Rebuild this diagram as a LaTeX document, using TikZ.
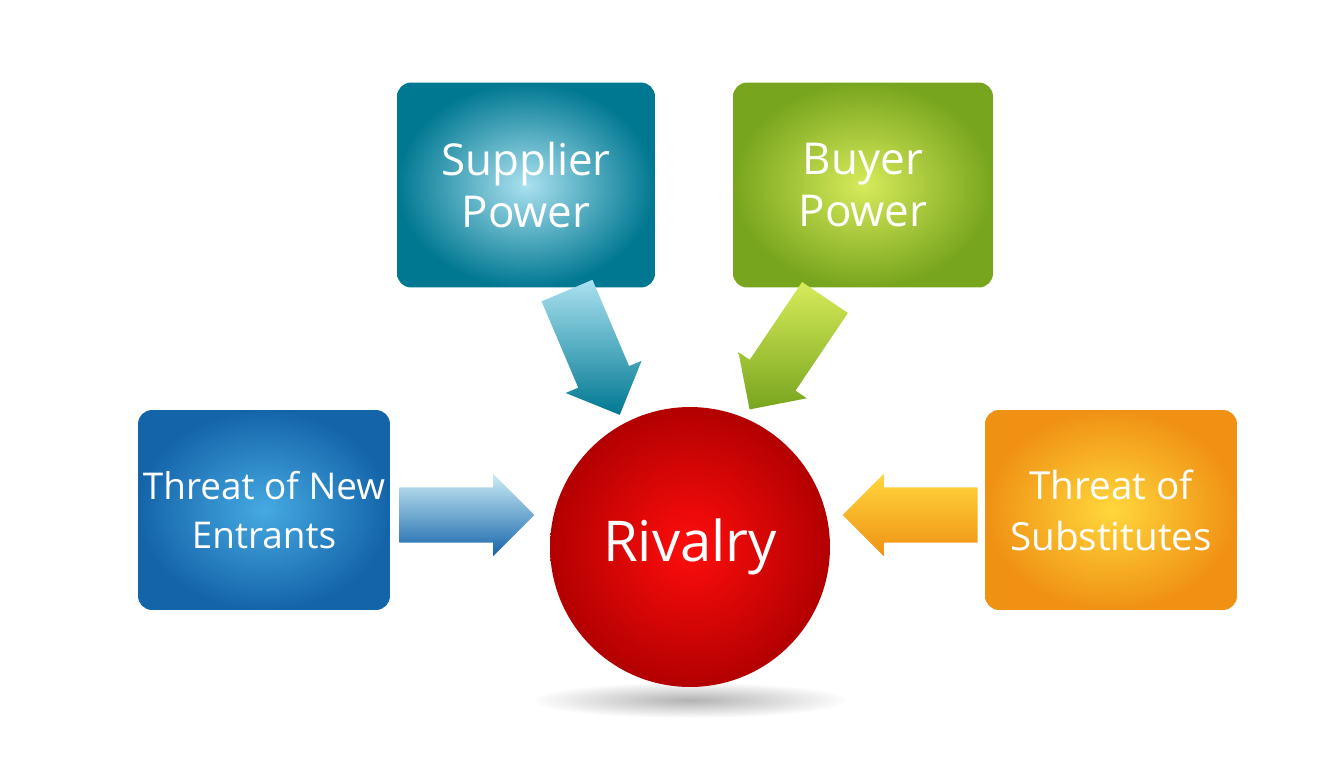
\documentclass[tikz,border=0pt]{standalone}
\usepackage{fontspec}
\setmainfont{Open Sans}
\usetikzlibrary{shapes.arrows,shadings}
\definecolor{tealdark}{RGB}{0,120,145}
\definecolor{teallight}{RGB}{170,225,240}
\definecolor{olivedark}{RGB}{120,165,30}
\definecolor{olivelight}{RGB}{215,235,90}
\definecolor{bluedark}{RGB}{20,100,170}
\definecolor{bluelight}{RGB}{70,170,225}
\definecolor{orangedark}{RGB}{240,145,20}
\definecolor{orangelight}{RGB}{255,215,60}
\tikzset{
    force/.style 2 args={ % #1 = light, #2 = dark
        rectangle, rounded corners=8pt, inner color=#1, outer color=#2,
        minimum width=5.1cm, minimum height=4.1cm, align=center, inner sep=0pt,
        text=white, font=\fontsize{25}{30}\selectfont
    },
    push/.style 2 args={
        single arrow, left color=#1, right color=#2, shading angle=0,
        minimum height=2.7cm, minimum width=1.65cm,
        inner xsep=0pt, inner ysep=0.5cm
    }
}
\begin{document}
\begin{tikzpicture}[x=0.02cm,y=-0.02cm]
\useasboundingbox (0,0) rectangle (1344,768);

% ============ Shadow ============
\shade[inner color=black!30, outer color=white] (690,700) ellipse (160 and 18);

% ============ Forces ============
\node[force={teallight}{tealdark}, minimum width=5.16cm] (supplier) at (526,185) {Supplier\\Power};
\node[force={olivelight}{olivedark}, minimum width=5.2cm] (buyer) at (863,185) {Buyer\\Power};
\node[force={bluelight}{bluedark}, minimum width=5.04cm, minimum height=4cm,
      font=\fontsize{21}{28}\selectfont] (entrants) at (264,510) {Threat of New\\Entrants};
\node[force={orangelight}{orangedark}, minimum width=5.04cm, minimum height=4cm,
      font=\fontsize{22}{29}\selectfont] (substitutes) at (1111,510) {Threat of\\Substitutes};

% ============ Rivalry ============
\node[circle, minimum size=5.6cm, inner color=red!95!white, outer color=red!70!black,
      text=white, font=\fontsize{32}{38}\selectfont] (rivalry) at (690,547) {Rivalry};

% ============ Arrows ============
\node[push={teallight}{tealdark}, rotate=-67] (a1) at (588,340) {};
\node[push={olivelight}{olivedark}, rotate=-124] (a2) at (795,342) {};
\node[push={teallight!60!white}{bluedark}] (a3) at (453,515) {};
\node[push={orangelight}{orangedark}, rotate=180] (a4) at (924,515) {};

\end{tikzpicture}
\end{document}
